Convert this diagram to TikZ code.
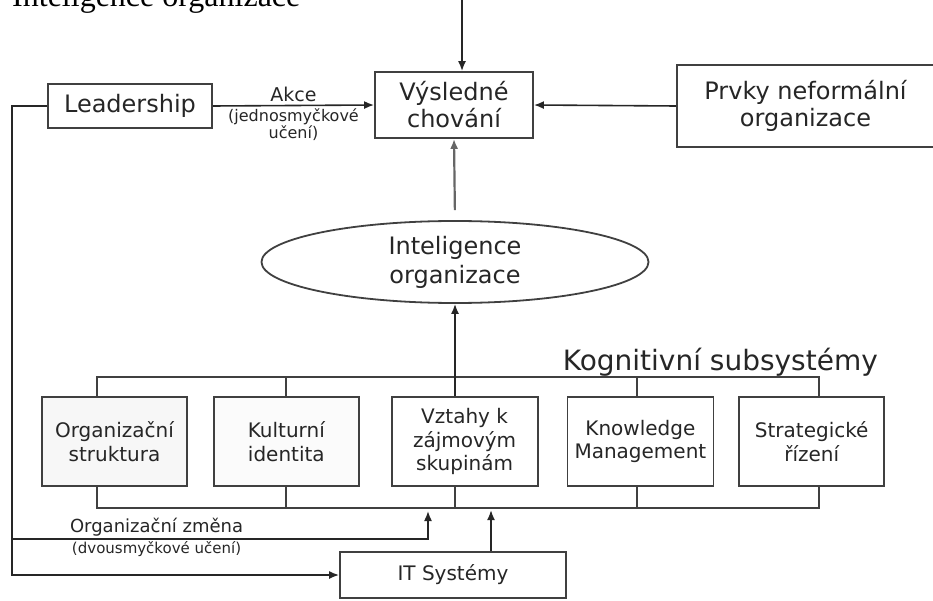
\documentclass[tikz,border=0pt]{standalone}
\usepackage{fontspec}
\setmainfont{DejaVu Sans}
\newfontfamily\capfont{Liberation Serif}
\usetikzlibrary{positioning,shapes.geometric,arrows.meta,backgrounds}

\tikzstyle{block} = [draw=black!75, line width=1.8pt, rectangle, align=center, inner sep=0pt, fill=white, text=black!85]
\tikzstyle{bigblock} = [block, font=\fontsize{24}{27}\selectfont]
\tikzstyle{subsys} = [block, minimum width=145pt, minimum height=89pt, font=\fontsize{20}{23.5}\selectfont]
\tikzstyle{arrow} = [line width=1.6pt, draw=black!85, ->, >={Latex[length=10pt,width=8pt]}]
\tikzstyle{bus} = [line width=1.8pt, draw=black!75]

\begin{document}
\begin{tikzpicture}[x=1pt, y=-1pt]
\useasboundingbox (0,0) rectangle (933,601);

% Caption (cut at the top)
\node (caption) [anchor=base west, inner sep=0pt, font=\capfont\fontsize{32}{36}\selectfont] at (12,7) {Inteligence organizace};

% Top row
\node (vysl) [bigblock, minimum width=158pt, minimum height=66pt] at (454,105) {Výsledné\\chování};
\node (lead) [bigblock, minimum width=164pt, minimum height=44pt] at (130,106) {Leadership};
\node (prvky) [bigblock, minimum width=257pt, minimum height=82pt] at (805.5,106) {Prvky neformální\\organizace};

% Ellipse
\node (iorg) [ellipse, draw=black!75, line width=1.8pt, minimum width=387pt, minimum height=82pt, inner sep=0pt, align=center, text=black!85, font=\fontsize{24}{29}\selectfont] at (455,262) {Inteligence\\organizace};

% Subsystems
\node (kog) [anchor=base east, inner sep=0pt, text=black!85, font=\fontsize{28}{32}\selectfont] at (878,370) {Kognitivní subsystémy};
\node (org) [subsys, fill=gray!6] at (114.5,441.5) {Organizační\\struktura};
\node (kult) [subsys, fill=gray!3, right=25pt of org] {Kulturní\\identita};
\node (vztahy) [subsys, minimum width=146pt, right=31pt of kult] {Vztahy k\\zájmovým\\skupinám};
\node (know) [subsys, minimum width=146pt, right=28pt of vztahy] {Knowledge\\Management};
\node (strat) [subsys, right=24pt of know] {Strategické\\řízení};

% IT
\node (itsys) [block, minimum width=226pt, minimum height=46pt, font=\fontsize{20}{24}\selectfont] at (453,575) {IT Systémy};

% Bus
\coordinate (busTL) at (97,377);
\coordinate (busTR) at (819,377);
\coordinate (busBL) at (97,508);
\coordinate (busBR) at (819,508);
\coordinate (knowT) at (637,377);
\coordinate (knowB) at (637,508);
\begin{scope}[on background layer]
\draw[bus] (busTL |- org.north) -- (busTL) -- (busTR) -- (busTR |- strat.north);
\draw[bus] (busBL |- org.south) -- (busBL) -- (busBR) -- (busBR |- strat.south);
\draw[bus] (kult.north |- busTL) -- (kult.north);
\draw[bus] (kult.south |- busBL) -- (kult.south);
\draw[bus] (iorg.south |- busBL) -- (iorg.south |- vztahy.south);
\draw[bus] (knowT) -- (knowT |- know.north);
\draw[bus] (knowB) -- (knowB |- know.south);
\end{scope}

% Arrows
\draw[arrow] (lead.east) -- node[above, inner sep=3pt, text=black!85, font=\fontsize{19}{22}\selectfont] (akce) {Akce}
  node[below, inner sep=2pt, align=center, text=black!85, font=\fontsize{16}{17}\selectfont] (akcepozn) {(jednosmyčkové\\učení)} (vysl.west);
\draw[arrow] (prvky.west) -- (vysl.east);
\coordinate (topin) at (462,-2);
\draw[arrow] (topin) -- (topin |- vysl.north);
\draw[arrow, draw=black!60, line width=2.2pt, shorten <=10pt] (iorg.north) -- (vysl.south);
\draw[arrow] (iorg.south |- vztahy.north) -- (iorg.south);

% Feedback loops
\draw[arrow] (lead.west) -- ++(-35,0) |- (itsys.west);
\coordinate (zmL) at (13,539);
\coordinate (zmT) at (428,511);
\draw[arrow] (zmL) -| node[pos=0.173, above, inner sep=2pt, text=black!85, font=\fontsize{18}{20}\selectfont] (zmena) {Organizační změna}
  node[pos=0.173, below, inner sep=2pt, text=black!85, font=\fontsize{15}{17}\selectfont] (zmenapozn) {(dvousmyčkové učení)} (zmT);
\draw[arrow] ([xshift=38pt]itsys.north) -- ++(0,-41);

\end{tikzpicture}
\end{document}
